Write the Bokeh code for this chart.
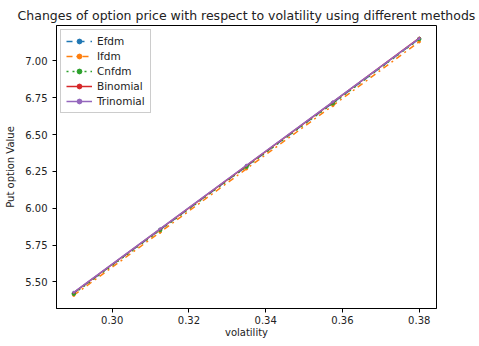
from bokeh.plotting import figure
from bokeh.embed import file_html
from bokeh.resources import INLINE
from bokeh.models import Range1d, FixedTicker, Legend, LegendItem

volatility = [0.29, 0.3125, 0.335, 0.3575, 0.38]
efdm = [5.425, 5.855, 6.285, 6.715, 7.150]
ifdm = [5.410, 5.838, 6.268, 6.697, 7.130]
cnfdm = [5.420, 5.852, 6.282, 6.712, 7.148]
binomial = [5.428, 5.858, 6.290, 6.720, 7.155]
trinomial = [5.430, 5.860, 6.292, 6.722, 7.152]

x_ticks = [0.30, 0.32, 0.34, 0.36, 0.38]
y_ticks = [5.50, 5.75, 6.00, 6.25, 6.50, 6.75, 7.00]

FONT = "DejaVu Sans"
TEXT = "#222222"

p = figure(width=479, height=340, output_backend="svg", toolbar_location=None,
           x_range=Range1d(0.2855, 0.3845), y_range=Range1d(5.32, 7.24),
           min_border_left=56, min_border_right=43, min_border_top=25, min_border_bottom=31)
p.title.text = "Changes of option price with respect to volatility using different methods"
p.title.align = "center"
p.title.text_font = FONT
p.title.text_font_size = "12.5px"
p.title.text_font_style = "normal"
p.title.text_color = TEXT
p.title.offset = 0
p.title.standoff = 6

p.grid.visible = False
p.outline_line_color = "black"
p.outline_line_width = 1

for ax in (p.xaxis[0], p.yaxis[0]):
    ax.major_label_text_font = FONT
    ax.major_label_text_font_size = "10px"
    ax.major_label_text_color = TEXT
    ax.axis_label_text_font = FONT
    ax.axis_label_text_font_size = "10px"
    ax.axis_label_text_font_style = "normal"
    ax.axis_label_text_color = TEXT
    ax.minor_tick_line_color = None
    ax.major_tick_out = 4
    ax.major_tick_in = 0
    ax.major_tick_line_color = "black"
    ax.axis_line_color = "black"

p.xaxis.ticker = FixedTicker(ticks=x_ticks)
p.yaxis.ticker = FixedTicker(ticks=y_ticks)
p.xaxis.major_label_overrides = {t: f"{t:.2f}" for t in x_ticks}
p.yaxis.major_label_overrides = {t: f"{t:.2f}" for t in y_ticks}
p.xaxis.axis_label = "volatility"
p.yaxis.axis_label = "Put option Value"
p.xaxis.axis_label_standoff = 0
p.yaxis.axis_label_standoff = 6
p.xaxis.major_label_standoff = 3

series = [
    ("Efdm", efdm, "#1f77b4", "dashed", 3),
    ("Ifdm", ifdm, "#ff7f0e", "dashdot", 2.5),
    ("Cnfdm", cnfdm, "#2ca02c", "dotted", 3.5),
    ("Binomial", binomial, "#d62728", "solid", 2),
    ("Trinomial", trinomial, "#9467bd", "solid", 2),
]
items = []
for name, ys, color, dash, msize in series:
    l = p.line(volatility, ys, line_color=color, line_width=1.5, line_dash=dash)
    s = p.scatter(volatility, ys, marker="circle", size=msize, fill_color=color, line_color=color)
    items.append(LegendItem(label=name, renderers=[l, s]))

legend = Legend(items=items, location="top_left")
legend.label_text_font = FONT
legend.label_text_font_size = "10.5px"
legend.label_text_color = TEXT
legend.glyph_width = 26
legend.glyph_height = 12
legend.label_height = 12
legend.spacing = 3
legend.padding = 5
legend.margin = 4
legend.border_line_color = "#cccccc"
legend.border_line_alpha = 1
legend.background_fill_alpha = 0.8
p.add_layout(legend)

open("out.html", "w").write(file_html(p, INLINE))
